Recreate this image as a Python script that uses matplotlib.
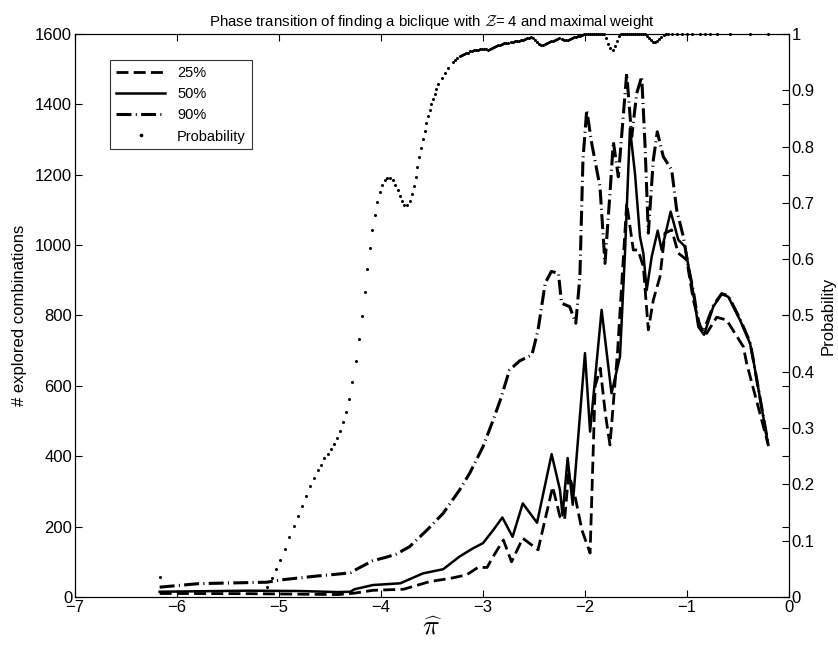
import numpy as np
import matplotlib.pyplot as plt

plt.rcParams['font.family'] = ['Liberation Sans', 'DejaVu Sans']
plt.rcParams['mathtext.fontset'] = 'cm'

# 25% quantile of explored combinations
x25 = [-6.17, -5.30, -4.42, -4.26, -4.08, -3.78, -3.52, -3.32, -3.16, -3.05, -2.96,
       -2.90, -2.80, -2.72, -2.61, -2.46, -2.317, -2.245, -2.20, -2.16, -2.10, -2.03,
       -1.95, -1.90, -1.85, -1.80, -1.755, -1.68, -1.591, -1.526, -1.48, -1.428,
       -1.379, -1.330, -1.265, -1.216, -1.150, -1.085, -1.003, -0.938, -0.87, -0.807,
       -0.709, -0.611, -0.447, -0.415, -0.203]
y25 = [10, 9.5, 7, 11, 19, 22, 44, 53, 63, 84, 84,
       115, 162, 100, 167, 134, 313, 228, 220, 350, 290, 190,
       125, 600, 650, 520, 432, 700, 1119, 986, 986, 939,
       759, 844, 910, 1034, 1043, 977, 958, 844, 768, 749,
       795, 787, 711, 664, 432]

# median
x50 = [-6.17, -5.30, -4.80, -4.42, -4.30, -4.26, -4.08, -3.81, -3.59, -3.39, -3.23,
       -3.10, -3.00, -2.90, -2.81, -2.71, -2.61, -2.47, -2.327, -2.245, -2.22, -2.17,
       -2.12, -2.00, -1.95, -1.837, -1.74, -1.657, -1.608, -1.559, -1.510, -1.461,
       -1.428, -1.395, -1.346, -1.287, -1.248, -1.160, -1.085, -1.020, -0.938, -0.889,
       -0.833, -0.742, -0.660, -0.595, -0.480, -0.382, -0.35, -0.203]
y50 = [15, 18, 17, 14, 15, 22, 34, 39, 67, 79, 115,
       138, 153, 190, 226, 171, 266, 211, 406, 304, 232, 395,
       262, 693, 470, 816, 579, 683, 977, 1332, 1204, 1024,
       977, 872, 967, 1041, 986, 1095, 1015, 996, 863, 768,
       745, 825, 861, 853, 787, 721, 674, 432]

# 90% quantile
x90 = [-6.17, -5.79, -5.46, -5.12, -4.97, -4.65, -4.39, -4.30, -4.22, -4.08, -3.95,
       -3.85, -3.72, -3.55, -3.39, -3.23, -3.13, -3.00, -2.90, -2.83, -2.74, -2.64,
       -2.52, -2.46, -2.39, -2.33, -2.26, -2.23, -2.15, -2.09, -2.05, -2.02, -1.983,
       -1.934, -1.853, -1.804, -1.755, -1.722, -1.673, -1.591, -1.542, -1.493, -1.444,
       -1.412, -1.379, -1.330, -1.291, -1.232, -1.150, -1.101, -1.036, -0.987, -0.938,
       -0.889, -0.84, -0.742, -0.66, -0.595, -0.48, -0.382, -0.35, -0.203]
y90 = [28, 38, 40, 42, 49, 59, 66, 69, 82, 103, 113,
       122, 143, 190, 238, 304, 352, 427, 503, 560, 645, 671,
       688, 759, 892, 925, 920, 835, 825, 778, 910, 1242, 1384,
       1289, 1166, 948, 1147, 1294, 1194, 1488, 1308, 1431, 1479,
       1289, 1034, 1242, 1322, 1251, 1214, 1100, 1024, 939, 870,
       780, 752, 828, 862, 856, 790, 724, 674, 432]

# probability of finding the biclique (right axis)
xp = [-6.17, -5.12, -5.07, -5.03, -4.99, -4.94, -4.90, -4.85, -4.81, -4.77, -4.74,
      -4.70, -4.66, -4.62, -4.59, -4.56, -4.52, -4.49, -4.46, -4.43, -4.40, -4.37,
      -4.34, -4.31, -4.28, -4.246, -4.213, -4.184, -4.160, -4.134, -4.108, -4.085,
      -4.059, -4.036, -4.013, -3.987, -3.964, -3.938, -3.912, -3.885, -3.860, -3.837,
      -3.817, -3.794, -3.772, -3.745, -3.719, -3.699, -3.679, -3.660, -3.644, -3.627,
      -3.608, -3.591, -3.571, -3.556, -3.539, -3.523, -3.507, -3.490, -3.474, -3.458,
      -3.438, -3.405, -3.373, -3.340, -3.291,
      -3.27, -3.25, -3.23, -3.21, -3.19, -3.17, -3.15, -3.13, -3.11, -3.09, -3.07,
      -3.05, -3.03, -3.01, -2.99, -2.97, -2.95, -2.93, -2.91, -2.89, -2.87, -2.85,
      -2.83, -2.81, -2.79, -2.77, -2.75, -2.73, -2.71, -2.69, -2.67, -2.65, -2.63,
      -2.61, -2.59, -2.57, -2.55, -2.53, -2.51, -2.49, -2.47, -2.45, -2.43, -2.41,
      -2.39, -2.37, -2.35, -2.33, -2.31, -2.29, -2.27, -2.25, -2.23, -2.21, -2.19,
      -2.17, -2.15, -2.13, -2.11, -2.09, -2.07, -2.05, -2.03, -2.01, -1.99, -1.97,
      -1.95, -1.93, -1.91, -1.89, -1.87, -1.85, -1.83, -1.81, -1.79, -1.77, -1.75,
      -1.73, -1.71, -1.69, -1.67, -1.65, -1.63, -1.61, -1.59, -1.57, -1.55, -1.53,
      -1.51, -1.49, -1.47, -1.45, -1.43, -1.41, -1.39, -1.37, -1.35, -1.33, -1.31,
      -1.29, -1.27, -1.25, -1.23, -1.21, -1.19,
      -1.15, -1.10, -1.05, -1.00, -0.954, -0.873, -0.824, -0.775, -0.709, -0.578,
      -0.382, -0.203]
yp = [0.035, 0.018, 0.033, 0.049, 0.066, 0.086, 0.106, 0.126, 0.144, 0.162, 0.180,
      0.197, 0.212, 0.225, 0.235, 0.246, 0.254, 0.263, 0.272, 0.282, 0.295, 0.311,
      0.329, 0.352, 0.382, 0.420, 0.458, 0.499, 0.542, 0.583, 0.619, 0.651,
      0.679, 0.702, 0.719, 0.732, 0.741, 0.745, 0.745, 0.741, 0.732, 0.722,
      0.712, 0.703, 0.697, 0.696, 0.703, 0.715, 0.730, 0.746, 0.763, 0.781,
      0.798, 0.813, 0.828, 0.842, 0.854, 0.865, 0.876, 0.885, 0.894, 0.902,
      0.911, 0.921, 0.930, 0.939, 0.951,
      0.954, 0.957, 0.960, 0.962, 0.964, 0.966, 0.967, 0.969, 0.970, 0.971, 0.972,
      0.972, 0.973, 0.974, 0.974, 0.973, 0.972, 0.973, 0.975, 0.977, 0.979, 0.980,
      0.981, 0.982, 0.983, 0.983, 0.984, 0.985, 0.986, 0.987, 0.987, 0.988, 0.989,
      0.990, 0.991, 0.992, 0.993, 0.994, 0.993, 0.990, 0.986, 0.982, 0.980, 0.980,
      0.982, 0.984, 0.986, 0.987, 0.988, 0.989, 0.991, 0.992, 0.991, 0.990, 0.989,
      0.989, 0.991, 0.993, 0.994, 0.995, 0.996, 0.997, 0.998, 0.999, 0.999, 1.0,
      1.0, 1.0, 1.0, 1.0, 1.0, 1.0, 1.0, 1.0, 0.992, 0.982, 0.975,
      0.972, 0.978, 0.988, 0.996, 1.0, 1.0, 1.0, 1.0, 1.0, 1.0, 1.0,
      1.0, 1.0, 1.0, 1.0, 1.0, 1.0, 0.997, 0.993, 0.989, 0.986, 0.985,
      0.987, 0.991, 0.995, 0.998, 1.0, 1.0,
      1.0, 1.0, 1.0, 1.0, 1.0, 1.0, 1.0, 1.0, 1.0, 1.0,
      1.0, 1.0]

fig = plt.figure(figsize=(8.38, 6.45), dpi=100)
ax = fig.add_axes([0.0895, 0.0744, 0.852, 0.873])
ax2 = ax.twinx()

l25, = ax.plot(x25, y25, color='black', lw=2, ls=(0, (4.3, 1.9)), label='25%')
l50, = ax.plot(x50, y50, color='black', lw=1.8, ls='-', label='50%')
l90, = ax.plot(x90, y90, color='black', lw=2.2, ls=(0, (4.9, 1.4, 0.35, 1.4)), label='90%')
lp, = ax2.plot(xp, yp, 'o', color='black', ms=2.2, mew=0, clip_on=False, label='Probability')

ax.set_xlim(-7, 0)
ax.set_ylim(0, 1600)
ax.set_xticks(range(-7, 1))
ax.set_yticks(range(0, 1601, 200))
ax2.set_ylim(0, 1)
ax2.set_yticks(np.arange(0, 1.01, 0.1))
ax2.set_yticklabels(['0', '0.1', '0.2', '0.3', '0.4', '0.5', '0.6', '0.7', '0.8', '0.9', '1'])

for a in (ax, ax2):
    a.tick_params(direction='in', length=5, width=0.8, labelsize=12, pad=2)
ax.tick_params(top=True, right=True)

ax.set_title(r'Phase transition of finding a biclique with $\mathcal{Z}$= 4 and maximal weight',
             fontsize=10.8, pad=6)
ax.set_ylabel('# explored combinations', fontsize=12, labelpad=6)
ax2.set_ylabel('Probability', fontsize=12, labelpad=4)
ax.set_xlabel(r'$\widehat{\pi}$', fontsize=20, labelpad=0)

leg = ax.legend(handles=[l25, l50, l90, lp], loc='upper left',
                bbox_to_anchor=(0.049, 0.954), fontsize=10.5, frameon=True,
                fancybox=False, edgecolor='black', handlelength=3.4,
                borderaxespad=0, markerscale=1.2, borderpad=0.4)
leg.get_frame().set_linewidth(0.8)

fig.savefig('out.png', dpi=100)
